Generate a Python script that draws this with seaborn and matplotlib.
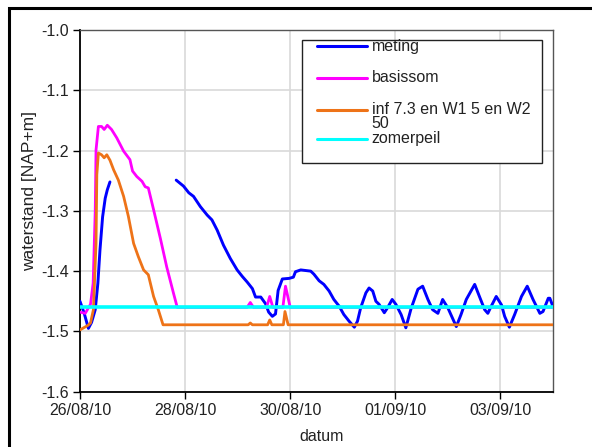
import numpy as np
import pandas as pd
import seaborn as sns
import matplotlib.pyplot as plt
import matplotlib.dates as mdates
from matplotlib.patches import Rectangle
from matplotlib.lines import Line2D

# days since 26/08/10 00:00
start_date = "2010-08-26"

meting_days = [0.0, 0.08, 0.16, 0.22, 0.29, 0.34, 0.38, 0.43, 0.48, 0.52, 0.57,
               1.83, 1.97, 2.07, 2.16, 2.29, 2.42, 2.51, 2.61, 2.73, 2.86, 2.99, 3.09,
               3.18, 3.28, 3.34, 3.44, 3.53, 3.59, 3.66, 3.72, 3.77, 3.85, 3.98, 4.06,
               4.10, 4.20, 4.39, 4.45, 4.55, 4.64, 4.74, 4.83, 4.93, 5.02, 5.12, 5.22,
               5.28, 5.34, 5.44, 5.50, 5.57, 5.63, 5.69, 5.79, 5.85, 5.94, 6.01, 6.11,
               6.20, 6.30, 6.43, 6.52, 6.62, 6.71, 6.81, 6.90, 7.00, 7.16, 7.25, 7.35,
               7.51, 7.60, 7.70, 7.76, 7.82, 7.92, 8.02, 8.08, 8.17, 8.27, 8.40, 8.51,
               8.62, 8.75, 8.81, 8.91, 8.94, 9.0]
meting = [-1.450, -1.470, -1.495, -1.485, -1.464, -1.420, -1.365, -1.310, -1.279, -1.265, -1.252,
          -1.249, -1.259, -1.270, -1.276, -1.293, -1.307, -1.315, -1.332, -1.357, -1.379, -1.398, -1.409,
          -1.418, -1.429, -1.443, -1.443, -1.454, -1.468, -1.475, -1.471, -1.432, -1.413, -1.412, -1.410,
          -1.401, -1.398, -1.400, -1.405, -1.416, -1.422, -1.433, -1.447, -1.458, -1.472, -1.483, -1.493,
          -1.483, -1.461, -1.436, -1.428, -1.433, -1.450, -1.455, -1.469, -1.461, -1.447, -1.455, -1.472,
          -1.494, -1.462, -1.430, -1.425, -1.447, -1.464, -1.470, -1.447, -1.461, -1.492, -1.472, -1.447,
          -1.422, -1.442, -1.464, -1.470, -1.459, -1.442, -1.456, -1.475, -1.493, -1.472, -1.442, -1.425,
          -1.447, -1.470, -1.467, -1.445, -1.445, -1.459]
meting_segment = [0] * 11 + [1] * 78

basissom_days = [0.0, 0.1, 0.2, 0.25, 0.29, 0.305, 0.35, 0.41, 0.46, 0.52, 0.6, 0.7, 0.83,
                 0.95, 1.0, 1.08, 1.18, 1.24, 1.30, 1.40, 1.53, 1.65, 1.78, 1.85,
                 3.18, 3.24, 3.30, 3.55, 3.61, 3.67, 3.86, 3.91, 4.0, 9.0]
basissom = [-1.468, -1.470, -1.455, -1.420, -1.300, -1.199, -1.160, -1.160, -1.165, -1.158, -1.165,
            -1.179, -1.201, -1.215, -1.234, -1.243, -1.251, -1.260, -1.262, -1.298, -1.346, -1.393,
            -1.437, -1.460, -1.460, -1.452, -1.460, -1.460, -1.442, -1.460, -1.460, -1.425, -1.460, -1.460]

inf_days = [0.0, 0.15, 0.2, 0.255, 0.305, 0.32, 0.35, 0.41, 0.46, 0.51, 0.57, 0.64, 0.73,
            0.83, 0.92, 1.02, 1.11, 1.21, 1.30, 1.40, 1.49, 1.58, 3.20, 3.24, 3.28, 3.57,
            3.61, 3.65, 3.87, 3.90, 3.96, 9.0]
inf = [-1.4975, -1.490, -1.486, -1.464, -1.354, -1.240, -1.204, -1.207, -1.212, -1.207, -1.216,
       -1.232, -1.249, -1.276, -1.309, -1.354, -1.376, -1.398, -1.406, -1.442, -1.464, -1.489,
       -1.489, -1.486, -1.489, -1.489, -1.481, -1.489, -1.489, -1.467, -1.489, -1.489]

zomer_days = [0.0, 9.0]
zomerpeil = [-1.46, -1.46]

labels = ["meting", "basissom", "inf 7.3 en W1 5 en W2\n50", "zomerpeil"]
colors = ["#0000FF", "#FF00FF", "#EE7318", "#00FFFF"]

y_ticks = [-1.6, -1.5, -1.4, -1.3, -1.2, -1.1, -1.0]

W, H = 592, 447


def to_dates(days):
    return pd.Timestamp(start_date) + pd.to_timedelta(days, unit="D")


def fx(px):
    return px / W


def fy(py):
    return 1 - py / H


sns.set_style("whitegrid")
plt.rcParams["font.family"] = ["Liberation Sans", "DejaVu Sans"]
plt.rcParams["axes.unicode_minus"] = False

fig = plt.figure(figsize=(W / 100, H / 100), dpi=100)
ax = fig.add_axes([fx(80), fy(391.7), fx(553) - fx(80), fy(30) - fy(391.7)])

meting_df = pd.DataFrame({"datum": to_dates(meting_days), "level": meting, "seg": meting_segment})
sns.lineplot(data=meting_df, x="datum", y="level", units="seg", estimator=None,
             color=colors[0], lw=2.1, ax=ax, zorder=3)
sns.lineplot(x=to_dates(basissom_days), y=basissom, color=colors[1], lw=2.0, ax=ax, zorder=4)
sns.lineplot(x=to_dates(inf_days), y=inf, color=colors[2], lw=2.0, ax=ax, zorder=5)
sns.lineplot(x=to_dates(zomer_days), y=zomerpeil, color=colors[3], lw=2.6, ax=ax, zorder=6)

# axes
ax.set_xlim(to_dates([0.0, 9.0]))
ax.set_ylim(-1.6, -1.0)
ax.set_yticks(y_ticks)
ax.yaxis.set_major_formatter(plt.FormatStrFormatter("%.1f"))
ax.set_xticks(pd.date_range(start_date, periods=5, freq="2D"))
ax.xaxis.set_major_formatter(mdates.DateFormatter("%d/%m/%y"))
ax.grid(True, color="#D9D9D9", lw=1.2)
ax.tick_params(axis="both", direction="out", length=5, width=1, color="black",
               labelsize=11.5, labelcolor="#222222", left=True, bottom=True, pad=3)
for side in ["left", "bottom"]:
    ax.spines[side].set_color("black")
    ax.spines[side].set_linewidth(1.3)
for side in ["top", "right"]:
    ax.spines[side].set_color("#555555")
    ax.spines[side].set_linewidth(1.0)

ax.set_xlabel("datum", fontsize=11.5, color="#222222")
ax.xaxis.set_label_coords(0.51, -0.125)
ax.xaxis.label.set_va("center")
ax.set_ylabel("waterstand [NAP+m]", fontsize=12.5, color="#222222")
ax.yaxis.set_label_coords(-0.090, 0.555)

# legend, drawn excel style with uneven row spacing
fig.add_artist(Rectangle((fx(301.5), fy(163)), fx(541.5) - fx(301.5), fy(40) - fy(163),
                         transform=fig.transFigure, facecolor="white", edgecolor="#222222", lw=1.0))
line_rows = [46, 78, 110, 139]
text_rows = [46, 78, 116.5, 138]
for c, lab, ly, ty in zip(colors, labels, line_rows, text_rows):
    fig.add_artist(Line2D([fx(316.5), fx(367.5)], [fy(ly), fy(ly)], color=c, lw=2.2,
                          transform=fig.transFigure))
    fig.text(fx(371.5), fy(ty), lab, fontsize=11.5, color="#222222", va="center", ha="left",
             linespacing=0.95)

# outer chart border
fig.add_artist(Rectangle((fx(9), -0.1), 1.2, fy(8) + 0.1, transform=fig.transFigure,
                         fill=False, edgecolor="black", lw=2.2, clip_on=False))

fig.savefig("out.png", dpi=100)
